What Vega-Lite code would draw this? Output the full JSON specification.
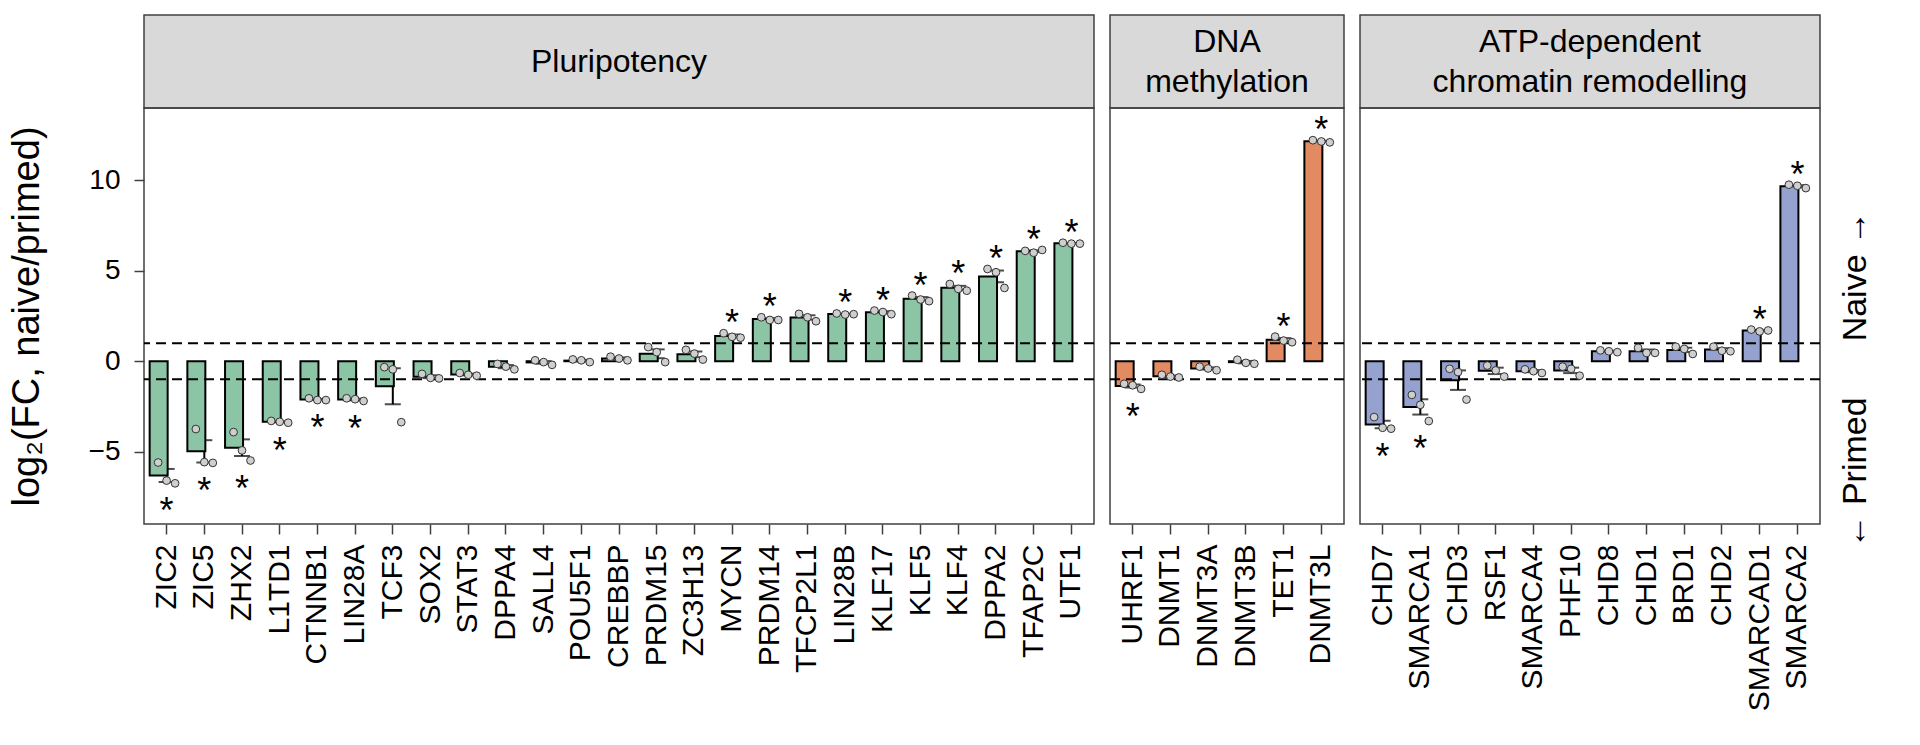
{
  "$schema": "https://vega.github.io/schema/vega-lite/v6.json",
  "padding": {"left": 7, "top": 14, "right": 5, "bottom": 5},
  "config": {
    "font": "Liberation Sans",
    "view": {"stroke": "#404040", "strokeWidth": 1.5},
    "axis": {"grid": false, "domain": false, "tickColor": "#404040", "tickSize": 10, "tickWidth": 1.5, "labelColor": "black", "titleColor": "black", "titleFontWeight": "normal"},
    "scale": {"bandPaddingInner": 0.1, "bandPaddingOuter": 0.15, "bandWithNestedOffsetPaddingInner": 0.1, "bandWithNestedOffsetPaddingOuter": 0.15}
  },
  "datasets": {
    "pluri": [
      {"gene": "ZIC2", "rep": 1, "value": -5.6}, {"gene": "ZIC2", "rep": 2, "value": -6.6}, {"gene": "ZIC2", "rep": 3, "value": -6.75},
      {"gene": "ZIC5", "rep": 1, "value": -3.75}, {"gene": "ZIC5", "rep": 2, "value": -5.58}, {"gene": "ZIC5", "rep": 3, "value": -5.62},
      {"gene": "ZHX2", "rep": 1, "value": -3.92}, {"gene": "ZHX2", "rep": 2, "value": -4.93}, {"gene": "ZHX2", "rep": 3, "value": -5.49},
      {"gene": "L1TD1", "rep": 1, "value": -3.3}, {"gene": "L1TD1", "rep": 2, "value": -3.35}, {"gene": "L1TD1", "rep": 3, "value": -3.4},
      {"gene": "CTNNB1", "rep": 1, "value": -2.05}, {"gene": "CTNNB1", "rep": 2, "value": -2.15}, {"gene": "CTNNB1", "rep": 3, "value": -2.15},
      {"gene": "LIN28A", "rep": 1, "value": -2.05}, {"gene": "LIN28A", "rep": 2, "value": -2.1}, {"gene": "LIN28A", "rep": 3, "value": -2.2},
      {"gene": "TCF3", "rep": 1, "value": -0.33}, {"gene": "TCF3", "rep": 2, "value": -0.45}, {"gene": "TCF3", "rep": 3, "value": -3.37},
      {"gene": "SOX2", "rep": 1, "value": -0.7}, {"gene": "SOX2", "rep": 2, "value": -0.92}, {"gene": "SOX2", "rep": 3, "value": -0.95},
      {"gene": "STAT3", "rep": 1, "value": -0.65}, {"gene": "STAT3", "rep": 2, "value": -0.75}, {"gene": "STAT3", "rep": 3, "value": -0.8},
      {"gene": "DPPA4", "rep": 1, "value": -0.15}, {"gene": "DPPA4", "rep": 2, "value": -0.3}, {"gene": "DPPA4", "rep": 3, "value": -0.45},
      {"gene": "SALL4", "rep": 1, "value": 0.05}, {"gene": "SALL4", "rep": 2, "value": -0.05}, {"gene": "SALL4", "rep": 3, "value": -0.2},
      {"gene": "POU5F1", "rep": 1, "value": 0.1}, {"gene": "POU5F1", "rep": 2, "value": 0.05}, {"gene": "POU5F1", "rep": 3, "value": -0.05},
      {"gene": "CREBBP", "rep": 1, "value": 0.25}, {"gene": "CREBBP", "rep": 2, "value": 0.15}, {"gene": "CREBBP", "rep": 3, "value": 0.05},
      {"gene": "PRDM15", "rep": 1, "value": 0.78}, {"gene": "PRDM15", "rep": 2, "value": 0.5}, {"gene": "PRDM15", "rep": 3, "value": -0.05},
      {"gene": "ZC3H13", "rep": 1, "value": 0.63}, {"gene": "ZC3H13", "rep": 2, "value": 0.42}, {"gene": "ZC3H13", "rep": 3, "value": 0.09},
      {"gene": "MYCN", "rep": 1, "value": 1.55}, {"gene": "MYCN", "rep": 2, "value": 1.35}, {"gene": "MYCN", "rep": 3, "value": 1.3},
      {"gene": "PRDM14", "rep": 1, "value": 2.43}, {"gene": "PRDM14", "rep": 2, "value": 2.28}, {"gene": "PRDM14", "rep": 3, "value": 2.28},
      {"gene": "TFCP2L1", "rep": 1, "value": 2.62}, {"gene": "TFCP2L1", "rep": 2, "value": 2.43}, {"gene": "TFCP2L1", "rep": 3, "value": 2.21},
      {"gene": "LIN28B", "rep": 1, "value": 2.64}, {"gene": "LIN28B", "rep": 2, "value": 2.58}, {"gene": "LIN28B", "rep": 3, "value": 2.6},
      {"gene": "KLF17", "rep": 1, "value": 2.8}, {"gene": "KLF17", "rep": 2, "value": 2.72}, {"gene": "KLF17", "rep": 3, "value": 2.6},
      {"gene": "KLF5", "rep": 1, "value": 3.63}, {"gene": "KLF5", "rep": 2, "value": 3.41}, {"gene": "KLF5", "rep": 3, "value": 3.32},
      {"gene": "KLF4", "rep": 1, "value": 4.27}, {"gene": "KLF4", "rep": 2, "value": 4.0}, {"gene": "KLF4", "rep": 3, "value": 3.9},
      {"gene": "DPPA2", "rep": 1, "value": 5.1}, {"gene": "DPPA2", "rep": 2, "value": 4.92}, {"gene": "DPPA2", "rep": 3, "value": 4.05},
      {"gene": "TFAP2C", "rep": 1, "value": 6.1}, {"gene": "TFAP2C", "rep": 2, "value": 6.0}, {"gene": "TFAP2C", "rep": 3, "value": 6.15},
      {"gene": "UTF1", "rep": 1, "value": 6.55}, {"gene": "UTF1", "rep": 2, "value": 6.5}, {"gene": "UTF1", "rep": 3, "value": 6.5}
    ],
    "dna": [
      {"gene": "UHRF1", "rep": 1, "value": -1.25}, {"gene": "UHRF1", "rep": 2, "value": -1.33}, {"gene": "UHRF1", "rep": 3, "value": -1.53},
      {"gene": "DNMT1", "rep": 1, "value": -0.75}, {"gene": "DNMT1", "rep": 2, "value": -0.85}, {"gene": "DNMT1", "rep": 3, "value": -0.9},
      {"gene": "DNMT3A", "rep": 1, "value": -0.3}, {"gene": "DNMT3A", "rep": 2, "value": -0.4}, {"gene": "DNMT3A", "rep": 3, "value": -0.5},
      {"gene": "DNMT3B", "rep": 1, "value": 0.08}, {"gene": "DNMT3B", "rep": 2, "value": -0.09}, {"gene": "DNMT3B", "rep": 3, "value": -0.14},
      {"gene": "TET1", "rep": 1, "value": 1.36}, {"gene": "TET1", "rep": 2, "value": 1.14}, {"gene": "TET1", "rep": 3, "value": 1.05},
      {"gene": "DNMT3L", "rep": 1, "value": 12.22}, {"gene": "DNMT3L", "rep": 2, "value": 12.15}, {"gene": "DNMT3L", "rep": 3, "value": 12.1}
    ],
    "atp": [
      {"gene": "CHD7", "rep": 1, "value": -3.09}, {"gene": "CHD7", "rep": 2, "value": -3.68}, {"gene": "CHD7", "rep": 3, "value": -3.73},
      {"gene": "SMARCA1", "rep": 1, "value": -1.86}, {"gene": "SMARCA1", "rep": 2, "value": -2.41}, {"gene": "SMARCA1", "rep": 3, "value": -3.31},
      {"gene": "CHD3", "rep": 1, "value": -0.42}, {"gene": "CHD3", "rep": 2, "value": -0.6}, {"gene": "CHD3", "rep": 3, "value": -2.12},
      {"gene": "RSF1", "rep": 1, "value": -0.24}, {"gene": "RSF1", "rep": 2, "value": -0.51}, {"gene": "RSF1", "rep": 3, "value": -0.85},
      {"gene": "SMARCA4", "rep": 1, "value": -0.45}, {"gene": "SMARCA4", "rep": 2, "value": -0.55}, {"gene": "SMARCA4", "rep": 3, "value": -0.65},
      {"gene": "PHF10", "rep": 1, "value": -0.3}, {"gene": "PHF10", "rep": 2, "value": -0.42}, {"gene": "PHF10", "rep": 3, "value": -0.8},
      {"gene": "CHD8", "rep": 1, "value": 0.6}, {"gene": "CHD8", "rep": 2, "value": 0.55}, {"gene": "CHD8", "rep": 3, "value": 0.5},
      {"gene": "CHD1", "rep": 1, "value": 0.74}, {"gene": "CHD1", "rep": 2, "value": 0.46}, {"gene": "CHD1", "rep": 3, "value": 0.46},
      {"gene": "BRD1", "rep": 1, "value": 0.8}, {"gene": "BRD1", "rep": 2, "value": 0.68}, {"gene": "BRD1", "rep": 3, "value": 0.4},
      {"gene": "CHD2", "rep": 1, "value": 0.8}, {"gene": "CHD2", "rep": 2, "value": 0.58}, {"gene": "CHD2", "rep": 3, "value": 0.55},
      {"gene": "SMARCAD1", "rep": 1, "value": 1.75}, {"gene": "SMARCAD1", "rep": 2, "value": 1.65}, {"gene": "SMARCAD1", "rep": 3, "value": 1.7},
      {"gene": "SMARCA2", "rep": 1, "value": 9.76}, {"gene": "SMARCA2", "rep": 2, "value": 9.7}, {"gene": "SMARCA2", "rep": 3, "value": 9.57}
    ],
    "cutoffs": [{"h": 1}, {"h": -1}]
  },
  "columns": 3,
  "spacing": {"row": 0, "column": 16},
  "bounds": "flush",
  "concat": [
    {
      "width": 950, "height": 93,
      "view": {"fill": "#D9D9D9", "stroke": "#404040", "strokeWidth": 1.5},
      "data": {"values": [{"label": "Pluripotency"}]},
      "mark": {"type": "text", "fontSize": 32, "align": "center", "baseline": "middle", "color": "black"},
      "encoding": {"text": {"field": "label"}}
    },
    {
      "width": 234, "height": 93,
      "view": {"fill": "#D9D9D9", "stroke": "#404040", "strokeWidth": 1.5},
      "data": {"values": [{"label": "DNA\nmethylation"}]},
      "mark": {"type": "text", "fontSize": 32, "lineBreak": "\n", "lineHeight": 40, "align": "center", "baseline": "middle", "dy": -20, "color": "black"},
      "encoding": {"text": {"field": "label"}}
    },
    {
      "width": 460, "height": 93,
      "view": {"fill": "#D9D9D9", "stroke": "#404040", "strokeWidth": 1.5},
      "data": {"values": [{"label": "ATP-dependent\nchromatin remodelling"}]},
      "mark": {"type": "text", "fontSize": 32, "lineBreak": "\n", "lineHeight": 40, "align": "center", "baseline": "middle", "dy": -20, "color": "black"},
      "encoding": {"text": {"field": "label"}}
    },
    {
      "width": 950, "height": 416,
      "data": {"name": "pluri"},
      "layer": [
        {
          "mark": {"type": "errorbar", "extent": "stderr", "color": "black", "rule": {"strokeWidth": 2}, "ticks": {"size": 16, "thickness": 2}},
          "encoding": {
            "x": {"field": "gene", "type": "nominal", "sort": null, "scale": {"domain": ["ZIC2","ZIC5","ZHX2","L1TD1","CTNNB1","LIN28A","TCF3","SOX2","STAT3","DPPA4","SALL4","POU5F1","CREBBP","PRDM15","ZC3H13","MYCN","PRDM14","TFCP2L1","LIN28B","KLF17","KLF5","KLF4","DPPA2","TFAP2C","UTF1"], "paddingInner": 0.1, "paddingOuter": 0.15}, "axis": {"title": null, "labelAngle": 270, "labelAlign": "right", "labelBaseline": "middle", "labelFontSize": 30, "labelPadding": 10, "labelOverlap": false}},
            "y": {"field": "value", "type": "quantitative", "scale": {"domain": [-9, 14], "nice": false, "zero": false}, "axis": {"title": "log₂(FC, naive/primed)", "values": [-5, 0, 5, 10], "titleFontSize": 38, "labelFontSize": 28, "labelPadding": 14, "titlePadding": 42}}
          }
        },
        {
          "mark": {"type": "bar", "fill": "#8BC5A5", "stroke": "black", "strokeWidth": 2, "width": {"band": 1}},
          "encoding": {
            "x": {"field": "gene", "type": "nominal", "sort": null, "scale": {"domain": ["ZIC2","ZIC5","ZHX2","L1TD1","CTNNB1","LIN28A","TCF3","SOX2","STAT3","DPPA4","SALL4","POU5F1","CREBBP","PRDM15","ZC3H13","MYCN","PRDM14","TFCP2L1","LIN28B","KLF17","KLF5","KLF4","DPPA2","TFAP2C","UTF1"], "paddingInner": 0.1, "paddingOuter": 0.15}},
            "y": {"field": "value", "aggregate": "mean", "type": "quantitative", "scale": {"domain": [-9, 14], "nice": false, "zero": false}, "axis": {"title": "log₂(FC, naive/primed)", "values": [-5, 0, 5, 10], "titleFontSize": 38, "labelFontSize": 28, "labelPadding": 14, "titlePadding": 42}}
          }
        },
        {
          "data": {"name": "cutoffs"},
          "mark": {"type": "rule", "color": "black", "strokeWidth": 2, "strokeDash": [10, 6]},
          "encoding": {"y": {"field": "h", "type": "quantitative", "scale": {"domain": [-9, 14], "nice": false, "zero": false}, "axis": {"title": "log₂(FC, naive/primed)", "values": [-5, 0, 5, 10], "titleFontSize": 38, "labelFontSize": 28, "labelPadding": 14, "titlePadding": 42}}}
        },
        {
          "mark": {"type": "point", "shape": "circle", "filled": true, "fill": "#CFCFCF", "stroke": "#333333", "strokeWidth": 1, "size": 60, "opacity": 1},
          "encoding": {
            "x": {"field": "gene", "type": "nominal", "sort": null, "scale": {"domain": ["ZIC2","ZIC5","ZHX2","L1TD1","CTNNB1","LIN28A","TCF3","SOX2","STAT3","DPPA4","SALL4","POU5F1","CREBBP","PRDM15","ZC3H13","MYCN","PRDM14","TFCP2L1","LIN28B","KLF17","KLF5","KLF4","DPPA2","TFAP2C","UTF1"], "paddingInner": 0.1, "paddingOuter": 0.15}},
            "xOffset": {"field": "rep", "type": "nominal", "scale": {"type": "point", "padding": 2.4}},
            "y": {"field": "value", "type": "quantitative", "scale": {"domain": [-9, 14], "nice": false, "zero": false}, "axis": {"title": "log₂(FC, naive/primed)", "values": [-5, 0, 5, 10], "titleFontSize": 38, "labelFontSize": 28, "labelPadding": 14, "titlePadding": 42}}
          }
        },
        {
          "transform": [
            {"filter": {"field": "gene", "oneOf": ["ZIC2","ZIC5","ZHX2","L1TD1","CTNNB1","LIN28A","MYCN","PRDM14","LIN28B","KLF17","KLF5","KLF4","DPPA2","TFAP2C","UTF1"]}},
            {"aggregate": [{"op": "mean", "field": "value", "as": "m"}, {"op": "max", "field": "value", "as": "hi"}], "groupby": ["gene"]},
            {"filter": "datum.m > 0"}
          ],
          "mark": {"type": "text", "text": "*", "fontSize": 36, "baseline": "middle", "dy": -9, "color": "black"},
          "encoding": {
            "x": {"field": "gene", "type": "nominal", "sort": null, "scale": {"domain": ["ZIC2","ZIC5","ZHX2","L1TD1","CTNNB1","LIN28A","TCF3","SOX2","STAT3","DPPA4","SALL4","POU5F1","CREBBP","PRDM15","ZC3H13","MYCN","PRDM14","TFCP2L1","LIN28B","KLF17","KLF5","KLF4","DPPA2","TFAP2C","UTF1"], "paddingInner": 0.1, "paddingOuter": 0.15}},
            "y": {"field": "hi", "type": "quantitative", "scale": {"domain": [-9, 14], "nice": false, "zero": false}, "axis": {"title": "log₂(FC, naive/primed)", "values": [-5, 0, 5, 10], "titleFontSize": 38, "labelFontSize": 28, "labelPadding": 14, "titlePadding": 42}}
          }
        },
        {
          "transform": [
            {"filter": {"field": "gene", "oneOf": ["ZIC2","ZIC5","ZHX2","L1TD1","CTNNB1","LIN28A","MYCN","PRDM14","LIN28B","KLF17","KLF5","KLF4","DPPA2","TFAP2C","UTF1"]}},
            {"aggregate": [{"op": "mean", "field": "value", "as": "m"}, {"op": "min", "field": "value", "as": "lo"}], "groupby": ["gene"]},
            {"filter": "datum.m < 0"}
          ],
          "mark": {"type": "text", "text": "*", "fontSize": 36, "baseline": "middle", "dy": 29, "color": "black"},
          "encoding": {
            "x": {"field": "gene", "type": "nominal", "sort": null, "scale": {"domain": ["ZIC2","ZIC5","ZHX2","L1TD1","CTNNB1","LIN28A","TCF3","SOX2","STAT3","DPPA4","SALL4","POU5F1","CREBBP","PRDM15","ZC3H13","MYCN","PRDM14","TFCP2L1","LIN28B","KLF17","KLF5","KLF4","DPPA2","TFAP2C","UTF1"], "paddingInner": 0.1, "paddingOuter": 0.15}},
            "y": {"field": "lo", "type": "quantitative", "scale": {"domain": [-9, 14], "nice": false, "zero": false}, "axis": {"title": "log₂(FC, naive/primed)", "values": [-5, 0, 5, 10], "titleFontSize": 38, "labelFontSize": 28, "labelPadding": 14, "titlePadding": 42}}
          }
        }
      ]
    },
    {
      "width": 234, "height": 416,
      "data": {"name": "dna"},
      "layer": [
        {
          "mark": {"type": "errorbar", "extent": "stderr", "color": "black", "rule": {"strokeWidth": 2}, "ticks": {"size": 16, "thickness": 2}},
          "encoding": {
            "x": {"field": "gene", "type": "nominal", "sort": null, "scale": {"domain": ["UHRF1","DNMT1","DNMT3A","DNMT3B","TET1","DNMT3L"], "paddingInner": 0.1, "paddingOuter": 0.15}, "axis": {"title": null, "labelAngle": 270, "labelAlign": "right", "labelBaseline": "middle", "labelFontSize": 30, "labelPadding": 10, "labelOverlap": false}},
            "y": {"field": "value", "type": "quantitative", "scale": {"domain": [-9, 14], "nice": false, "zero": false}, "axis": null}
          }
        },
        {
          "mark": {"type": "bar", "fill": "#E28B62", "stroke": "black", "strokeWidth": 2, "width": {"band": 1}},
          "encoding": {
            "x": {"field": "gene", "type": "nominal", "sort": null, "scale": {"domain": ["UHRF1","DNMT1","DNMT3A","DNMT3B","TET1","DNMT3L"], "paddingInner": 0.1, "paddingOuter": 0.15}},
            "y": {"field": "value", "aggregate": "mean", "type": "quantitative", "scale": {"domain": [-9, 14], "nice": false, "zero": false}, "axis": null}
          }
        },
        {
          "data": {"name": "cutoffs"},
          "mark": {"type": "rule", "color": "black", "strokeWidth": 2, "strokeDash": [10, 6]},
          "encoding": {"y": {"field": "h", "type": "quantitative", "scale": {"domain": [-9, 14], "nice": false, "zero": false}, "axis": null}}
        },
        {
          "mark": {"type": "point", "shape": "circle", "filled": true, "fill": "#CFCFCF", "stroke": "#333333", "strokeWidth": 1, "size": 60, "opacity": 1},
          "encoding": {
            "x": {"field": "gene", "type": "nominal", "sort": null, "scale": {"domain": ["UHRF1","DNMT1","DNMT3A","DNMT3B","TET1","DNMT3L"], "paddingInner": 0.1, "paddingOuter": 0.15}},
            "xOffset": {"field": "rep", "type": "nominal", "scale": {"type": "point", "padding": 2.4}},
            "y": {"field": "value", "type": "quantitative", "scale": {"domain": [-9, 14], "nice": false, "zero": false}, "axis": null}
          }
        },
        {
          "transform": [
            {"filter": {"field": "gene", "oneOf": ["UHRF1","TET1","DNMT3L"]}},
            {"aggregate": [{"op": "mean", "field": "value", "as": "m"}, {"op": "max", "field": "value", "as": "hi"}], "groupby": ["gene"]},
            {"filter": "datum.m > 0"}
          ],
          "mark": {"type": "text", "text": "*", "fontSize": 36, "baseline": "middle", "dy": -9, "color": "black"},
          "encoding": {
            "x": {"field": "gene", "type": "nominal", "sort": null, "scale": {"domain": ["UHRF1","DNMT1","DNMT3A","DNMT3B","TET1","DNMT3L"], "paddingInner": 0.1, "paddingOuter": 0.15}},
            "y": {"field": "hi", "type": "quantitative", "scale": {"domain": [-9, 14], "nice": false, "zero": false}, "axis": null}
          }
        },
        {
          "transform": [
            {"filter": {"field": "gene", "oneOf": ["UHRF1","TET1","DNMT3L"]}},
            {"aggregate": [{"op": "mean", "field": "value", "as": "m"}, {"op": "min", "field": "value", "as": "lo"}], "groupby": ["gene"]},
            {"filter": "datum.m < 0"}
          ],
          "mark": {"type": "text", "text": "*", "fontSize": 36, "baseline": "middle", "dy": 29, "color": "black"},
          "encoding": {
            "x": {"field": "gene", "type": "nominal", "sort": null, "scale": {"domain": ["UHRF1","DNMT1","DNMT3A","DNMT3B","TET1","DNMT3L"], "paddingInner": 0.1, "paddingOuter": 0.15}},
            "y": {"field": "lo", "type": "quantitative", "scale": {"domain": [-9, 14], "nice": false, "zero": false}, "axis": null}
          }
        }
      ]
    },
    {
      "width": 460, "height": 416,
      "data": {"name": "atp"},
      "layer": [
        {
          "mark": {"type": "errorbar", "extent": "stderr", "color": "black", "rule": {"strokeWidth": 2}, "ticks": {"size": 16, "thickness": 2}},
          "encoding": {
            "x": {"field": "gene", "type": "nominal", "sort": null, "scale": {"domain": ["CHD7","SMARCA1","CHD3","RSF1","SMARCA4","PHF10","CHD8","CHD1","BRD1","CHD2","SMARCAD1","SMARCA2"], "paddingInner": 0.1, "paddingOuter": 0.15}, "axis": {"title": null, "labelAngle": 270, "labelAlign": "right", "labelBaseline": "middle", "labelFontSize": 30, "labelPadding": 10, "labelOverlap": false}},
            "y": {"field": "value", "type": "quantitative", "scale": {"domain": [-9, 14], "nice": false, "zero": false}, "axis": {"orient": "right", "title": null, "values": [4.73, -6.15], "labelExpr": "datum.value > 0 ? 'Naive →' : '← Primed'", "ticks": false, "labelAngle": 270, "labelAlign": "center", "labelBaseline": "top", "labelFontSize": 34, "labelPadding": 18, "labelOverlap": false}}
          }
        },
        {
          "mark": {"type": "bar", "fill": "#95A2CF", "stroke": "black", "strokeWidth": 2, "width": {"band": 1}},
          "encoding": {
            "x": {"field": "gene", "type": "nominal", "sort": null, "scale": {"domain": ["CHD7","SMARCA1","CHD3","RSF1","SMARCA4","PHF10","CHD8","CHD1","BRD1","CHD2","SMARCAD1","SMARCA2"], "paddingInner": 0.1, "paddingOuter": 0.15}},
            "y": {"field": "value", "aggregate": "mean", "type": "quantitative", "scale": {"domain": [-9, 14], "nice": false, "zero": false}, "axis": {"orient": "right", "title": null, "values": [4.73, -6.15], "labelExpr": "datum.value > 0 ? 'Naive →' : '← Primed'", "ticks": false, "labelAngle": 270, "labelAlign": "center", "labelBaseline": "top", "labelFontSize": 34, "labelPadding": 18, "labelOverlap": false}}
          }
        },
        {
          "data": {"name": "cutoffs"},
          "mark": {"type": "rule", "color": "black", "strokeWidth": 2, "strokeDash": [10, 6]},
          "encoding": {"y": {"field": "h", "type": "quantitative", "scale": {"domain": [-9, 14], "nice": false, "zero": false}, "axis": {"orient": "right", "title": null, "values": [4.73, -6.15], "labelExpr": "datum.value > 0 ? 'Naive →' : '← Primed'", "ticks": false, "labelAngle": 270, "labelAlign": "center", "labelBaseline": "top", "labelFontSize": 34, "labelPadding": 18, "labelOverlap": false}}}
        },
        {
          "mark": {"type": "point", "shape": "circle", "filled": true, "fill": "#CFCFCF", "stroke": "#333333", "strokeWidth": 1, "size": 60, "opacity": 1},
          "encoding": {
            "x": {"field": "gene", "type": "nominal", "sort": null, "scale": {"domain": ["CHD7","SMARCA1","CHD3","RSF1","SMARCA4","PHF10","CHD8","CHD1","BRD1","CHD2","SMARCAD1","SMARCA2"], "paddingInner": 0.1, "paddingOuter": 0.15}},
            "xOffset": {"field": "rep", "type": "nominal", "scale": {"type": "point", "padding": 2.4}},
            "y": {"field": "value", "type": "quantitative", "scale": {"domain": [-9, 14], "nice": false, "zero": false}, "axis": {"orient": "right", "title": null, "values": [4.73, -6.15], "labelExpr": "datum.value > 0 ? 'Naive →' : '← Primed'", "ticks": false, "labelAngle": 270, "labelAlign": "center", "labelBaseline": "top", "labelFontSize": 34, "labelPadding": 18, "labelOverlap": false}}
          }
        },
        {
          "transform": [
            {"filter": {"field": "gene", "oneOf": ["CHD7","SMARCA1","SMARCAD1","SMARCA2"]}},
            {"aggregate": [{"op": "mean", "field": "value", "as": "m"}, {"op": "max", "field": "value", "as": "hi"}], "groupby": ["gene"]},
            {"filter": "datum.m > 0"}
          ],
          "mark": {"type": "text", "text": "*", "fontSize": 36, "baseline": "middle", "dy": -9, "color": "black"},
          "encoding": {
            "x": {"field": "gene", "type": "nominal", "sort": null, "scale": {"domain": ["CHD7","SMARCA1","CHD3","RSF1","SMARCA4","PHF10","CHD8","CHD1","BRD1","CHD2","SMARCAD1","SMARCA2"], "paddingInner": 0.1, "paddingOuter": 0.15}},
            "y": {"field": "hi", "type": "quantitative", "scale": {"domain": [-9, 14], "nice": false, "zero": false}, "axis": {"orient": "right", "title": null, "values": [4.73, -6.15], "labelExpr": "datum.value > 0 ? 'Naive →' : '← Primed'", "ticks": false, "labelAngle": 270, "labelAlign": "center", "labelBaseline": "top", "labelFontSize": 34, "labelPadding": 18, "labelOverlap": false}}
          }
        },
        {
          "transform": [
            {"filter": {"field": "gene", "oneOf": ["CHD7","SMARCA1","SMARCAD1","SMARCA2"]}},
            {"aggregate": [{"op": "mean", "field": "value", "as": "m"}, {"op": "min", "field": "value", "as": "lo"}], "groupby": ["gene"]},
            {"filter": "datum.m < 0"}
          ],
          "mark": {"type": "text", "text": "*", "fontSize": 36, "baseline": "middle", "dy": 29, "color": "black"},
          "encoding": {
            "x": {"field": "gene", "type": "nominal", "sort": null, "scale": {"domain": ["CHD7","SMARCA1","CHD3","RSF1","SMARCA4","PHF10","CHD8","CHD1","BRD1","CHD2","SMARCAD1","SMARCA2"], "paddingInner": 0.1, "paddingOuter": 0.15}},
            "y": {"field": "lo", "type": "quantitative", "scale": {"domain": [-9, 14], "nice": false, "zero": false}, "axis": {"orient": "right", "title": null, "values": [4.73, -6.15], "labelExpr": "datum.value > 0 ? 'Naive →' : '← Primed'", "ticks": false, "labelAngle": 270, "labelAlign": "center", "labelBaseline": "top", "labelFontSize": 34, "labelPadding": 18, "labelOverlap": false}}
          }
        }
      ]
    }
  ]
}
